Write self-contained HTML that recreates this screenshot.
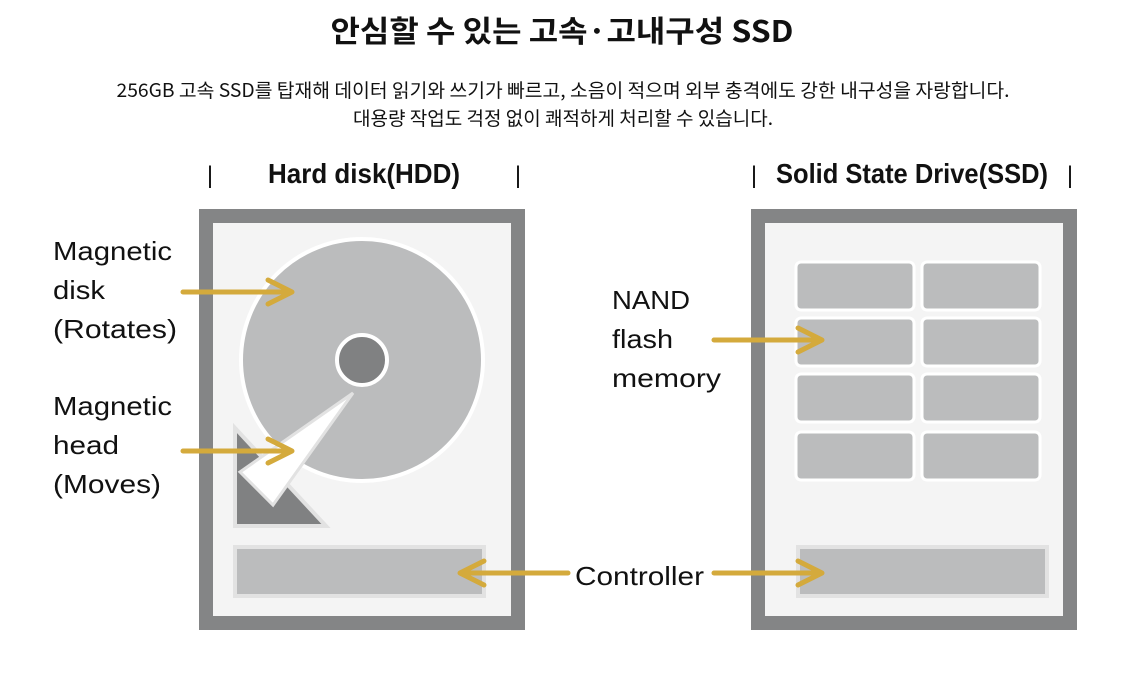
<!DOCTYPE html>
<html><head><meta charset="utf-8"><style>
html,body{margin:0;padding:0;background:#fff;}
svg{display:block;}
text{font-family:"Liberation Sans","Noto Sans CJK KR",sans-serif;fill:#111;}
</style></head><body>
<svg width="1125" height="678" viewBox="0 0 1125 678" xmlns="http://www.w3.org/2000/svg">
<text x="562" y="42" text-anchor="middle" font-size="30" font-weight="bold" textLength="463" lengthAdjust="spacingAndGlyphs" style="font-family:'Noto Sans CJK KR',sans-serif">안심할 수 있는 고속·고내구성 SSD</text>
<text x="563" y="97" text-anchor="middle" font-size="19" textLength="893" lengthAdjust="spacingAndGlyphs" style="font-family:'Noto Sans CJK KR',sans-serif" fill="#222">256GB 고속 SSD를 탑재해 데이터 읽기와 쓰기가 빠르고, 소음이 적으며 외부 충격에도 강한 내구성을 자랑합니다.</text>
<text x="563" y="125" text-anchor="middle" font-size="19" textLength="420" lengthAdjust="spacingAndGlyphs" style="font-family:'Noto Sans CJK KR',sans-serif" fill="#222">대용량 작업도 걱정 없이 쾌적하게 처리할 수 있습니다.</text>

<g font-size="28" font-weight="bold">
<text x="210" y="183" text-anchor="middle" font-weight="normal" font-size="24">|</text>
<text x="364" y="183" text-anchor="middle" textLength="192" lengthAdjust="spacingAndGlyphs">Hard disk(HDD)</text>
<text x="518" y="183" text-anchor="middle" font-weight="normal" font-size="24">|</text>
<text x="754" y="183" text-anchor="middle" font-weight="normal" font-size="24">|</text>
<text x="912" y="183" text-anchor="middle" textLength="272" lengthAdjust="spacingAndGlyphs">Solid State Drive(SSD)</text>
<text x="1070" y="183" text-anchor="middle" font-weight="normal" font-size="24">|</text>
</g>

<!-- HDD -->
<rect x="206" y="216" width="312" height="407" fill="#f4f4f4" stroke="#848586" stroke-width="14"/>
<circle cx="362" cy="360" r="121" fill="#bbbcbd" stroke="#fff" stroke-width="4"/>
<circle cx="362" cy="360" r="25" fill="#808182" stroke="#fff" stroke-width="4"/>
<polygon points="235,428 235,526 326,526" fill="#808182" stroke="#e2e2e2" stroke-width="4"/>
<polygon points="353,393 240,472 273,505" fill="#fff" stroke="#e2e2e2" stroke-width="3"/>
<rect x="235" y="547" width="249" height="49" fill="#bbbcbd" stroke="#e2e2e2" stroke-width="4"/>

<!-- SSD -->
<rect x="758" y="216" width="312" height="407" fill="#f4f4f4" stroke="#848586" stroke-width="14"/>
<g fill="#bbbcbd" stroke="#fff" stroke-width="3">
<rect x="796" y="262" width="118" height="48" rx="5"/><rect x="922" y="262" width="118" height="48" rx="5"/>
<rect x="796" y="318" width="118" height="48" rx="5"/><rect x="922" y="318" width="118" height="48" rx="5"/>
<rect x="796" y="374" width="118" height="48" rx="5"/><rect x="922" y="374" width="118" height="48" rx="5"/>
<rect x="796" y="432" width="118" height="48" rx="5"/><rect x="922" y="432" width="118" height="48" rx="5"/>
</g>
<rect x="798" y="547" width="249" height="49" fill="#bbbcbd" stroke="#e2e2e2" stroke-width="4"/>

<!-- arrows -->
<g stroke="#d4aa3c" stroke-width="5" fill="none" stroke-linecap="round" stroke-linejoin="round">
<line x1="183" y1="292" x2="290" y2="292"/><polyline points="268,280 292,292 268,304"/>
<line x1="183" y1="451" x2="290" y2="451"/><polyline points="268,439 292,451 268,463"/>
<line x1="568" y1="573" x2="462" y2="573"/><polyline points="484,561 460,573 484,585"/>
<line x1="714" y1="573" x2="820" y2="573"/><polyline points="798,561 822,573 798,585"/>
<line x1="714" y1="340" x2="820" y2="340"/><polyline points="798,328 822,340 798,352"/>
</g>

<g font-size="26">
<text x="53" y="260" textLength="119" lengthAdjust="spacingAndGlyphs">Magnetic</text>
<text x="53" y="299" textLength="52" lengthAdjust="spacingAndGlyphs">disk</text>
<text x="53" y="338" textLength="124" lengthAdjust="spacingAndGlyphs">(Rotates)</text>
<text x="53" y="415" textLength="119" lengthAdjust="spacingAndGlyphs">Magnetic</text>
<text x="53" y="454" textLength="66" lengthAdjust="spacingAndGlyphs">head</text>
<text x="53" y="493" textLength="108" lengthAdjust="spacingAndGlyphs">(Moves)</text>
<text x="612" y="309" textLength="78" lengthAdjust="spacingAndGlyphs">NAND</text>
<text x="612" y="348" textLength="61" lengthAdjust="spacingAndGlyphs">flash</text>
<text x="612" y="387" textLength="109" lengthAdjust="spacingAndGlyphs">memory</text>
<text x="575" y="585" textLength="129" lengthAdjust="spacingAndGlyphs">Controller</text>
</g>
</svg>
</body></html>
